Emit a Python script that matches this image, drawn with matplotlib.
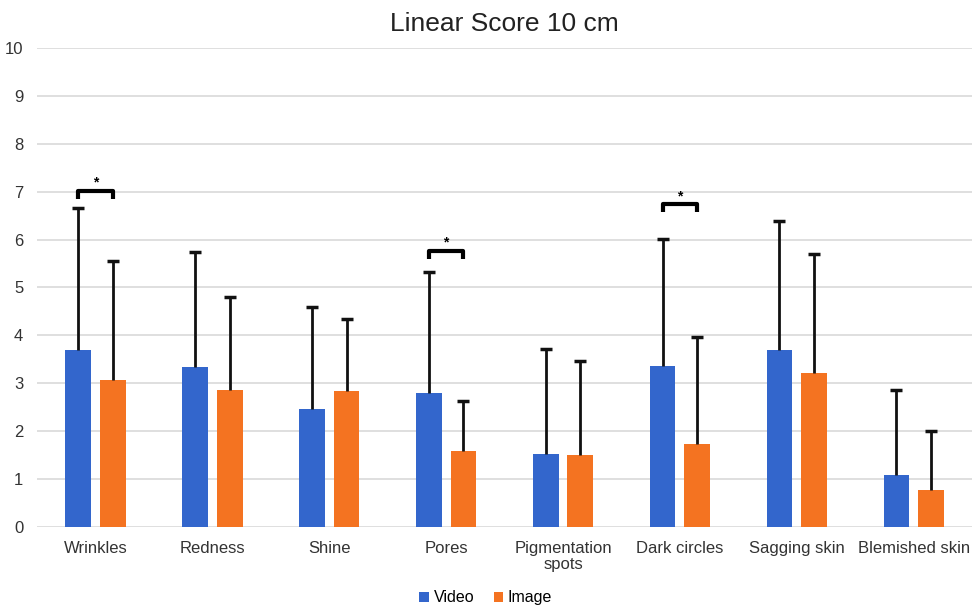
import matplotlib
matplotlib.use('Agg')
import matplotlib.pyplot as plt
import numpy as np

plt.rcParams['font.family'] = ['Liberation Sans', 'DejaVu Sans']

categories = ['Wrinkles', 'Redness', 'Shine', 'Pores', 'Pigmentation\nspots',
              'Dark circles', 'Sagging skin', 'Blemished skin']
video_mean = [3.70, 3.33, 2.46, 2.80, 1.52, 3.36, 3.70, 1.08]
video_top = [6.66, 5.73, 4.60, 5.32, 3.71, 6.01, 6.39, 2.86]
image_mean = [3.07, 2.86, 2.83, 1.59, 1.50, 1.73, 3.21, 0.76]
image_top = [5.55, 4.80, 4.34, 2.63, 3.47, 3.97, 5.69, 2.00]

# significance brackets: category index, bracket height
sig_cats = [0, 3, 5]
sig_heights = [7.02, 5.77, 6.74]

BLUE = '#3366cc'
ORANGE = '#f47321'

fig = plt.figure(figsize=(9.76, 6.07), dpi=100)
ax = fig.add_axes([0.038, 0.132, 0.958, 0.789])

x = np.arange(len(categories))
w = 0.22
off = 0.148

video_err = np.array(video_top) - np.array(video_mean)
image_err = np.array(image_top) - np.array(image_mean)

ax.bar(x - off, video_mean, w, color=BLUE, label='Video', zorder=2)
ax.bar(x + off, image_mean, w, color=ORANGE, label='Image', zorder=2)

# one-sided (upper) error bars
for xs, m, e in [(x - off, video_mean, video_err), (x + off, image_mean, image_err)]:
    eb = ax.errorbar(xs, m, yerr=[np.zeros(len(x)), e], fmt='none',
                     ecolor='#111111', elinewidth=2, capsize=4, capthick=2.5, zorder=3)
    caps = eb[1]
    if len(caps) == 2:
        caps[0].set_visible(False)

# significance brackets
drop = 0.17
for c, h in zip(sig_cats, sig_heights):
    ax.plot([c - off, c - off, c + off, c + off], [h - drop, h, h, h - drop],
            color='black', linewidth=3, solid_capstyle='butt', zorder=4)
    ax.text(c, h + 0.02, '*', ha='center', va='bottom', fontsize=10,
            fontweight='bold', color='black')

ax.set_xlim(-0.5, len(categories) - 0.5)
ax.set_ylim(0, 10)
ax.set_yticks(range(0, 11))
ax.set_xticks(x)
ax.set_xticklabels(categories, fontsize=12, color='#333333', linespacing=1.1)
ax.tick_params(axis='y', labelsize=12, colors='#333333', length=0, pad=10)
ax.tick_params(axis='x', length=0, pad=10)
ax.grid(True, axis='y', color='#d9d9d9', linewidth=1.2, zorder=0)
ax.set_axisbelow(True)
for s in ax.spines.values():
    s.set_visible(False)

ax.set_title('Linear Score 10 cm', fontsize=19, color='#222222', pad=12)

ax.legend(loc='center', bbox_to_anchor=(0.48, -0.148), ncol=2, frameon=False,
          fontsize=11.5, handlelength=0.6, handleheight=0.6, handletextpad=0.3,
          columnspacing=1.2, borderpad=0.1)

fig.savefig('out.png', dpi=100)
